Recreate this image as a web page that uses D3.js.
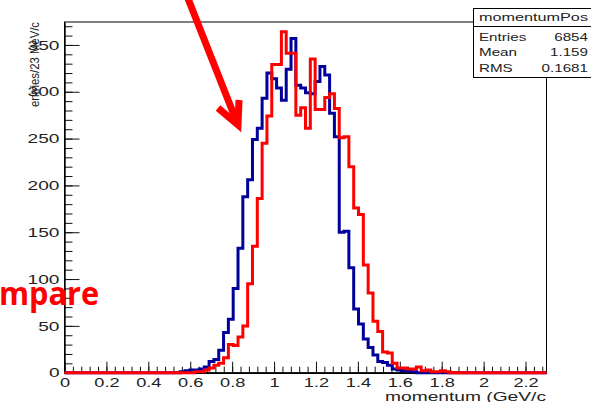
<!DOCTYPE html>
<meta charset="utf-8">
<style>
body { margin: 0; background: #fff; }
svg { display: block; font-family: "Liberation Sans", Arial, sans-serif; }
</style>
<svg width="591" height="402"></svg>
<script src="https://cdn.jsdelivr.net/npm/d3@7"></script>
<script>

// 100 bins of 23 MeV/c, 0 -> 2.3 GeV/c
var binWidth = 0.023;

var blueCounts = [
  0,0,0,0,0,0,0,0,0,0,
  0,0,0,0,0,0,0,0,0,0,
  0,0,0,0,1,2,3,3,4,6,
  12,14,24,43,57,90,133,188,206,249,
  261,293,320,314,304,291,324,357,307,304,
  299,298,311,327,318,277,252,150,151,112,
  68,52,36,27,19,12,11,8,4,3,
  2,2,1,0,0,0,0,0,0,0,
  0,0,0,0,0,0,0,0,0,0,
  0,0,0,0,0,0,0,0,0,0];

var redCounts = [
  0,0,0,0,0,0,0,0,0,0,
  0,0,0,0,0,0,0,0,0,0,
  0,0,0,0,0,0,0,1,1,3,
  5,8,10,16,30,29,38,50,95,135,
  186,245,274,329,329,364,341,341,275,283,
  261,335,281,281,294,298,282,251,252,220,
  176,169,115,85,55,44,22,21,10,5,
  5,4,4,6,2,3,1,1,2,1,
  0,0,0,0,0,0,0,0,0,0,
  0,0,0,0,0,0,0,0,0,0];

var xTickValues = [0, 0.2, 0.4, 0.6, 0.8, 1, 1.2, 1.4, 1.6, 1.8, 2, 2.2];
var yTickValues = [0, 50, 100, 150, 200, 250, 300, 350];
var statNames = ["Entries", "Mean", "RMS"];
var statValues = ["6854", "1.159", "0.1681"];

var svg = d3.select("svg");

var x = d3.scaleLinear().domain([0, 2.3]).range([64.5, 546.5]);
var y = d3.scaleLinear().domain([0, 374.5]).range([372.7, 22]);

// text in the picture is stretched sideways
function stretch(sel, k) {
  sel.each(function() {
    var w = this.getComputedTextLength();
    this.setAttribute("textLength", w * k);
    this.setAttribute("lengthAdjust", "spacingAndGlyphs");
  });
}

// frame
svg.append("rect")
    .attr("x", x(0))
    .attr("y", y.range()[1])
    .attr("width", x(2.3) - x(0))
    .attr("height", y(0) - y.range()[1])
    .attr("fill", "none")
    .attr("stroke", "#000")
    .attr("stroke-width", 1);

// minor ticks
var minorX = d3.range(0, 116).map(function(i) { return +(i * 0.02).toFixed(2); })
    .filter(function(d) { return d <= 2.3 && Math.round(d * 100) % 4 == 0; });
var minorY = d3.range(0, 371, 10);

svg.append("g")
    .attr("transform", "translate(0," + y(0) + ")")
    .call(d3.axisBottom(x).tickValues(minorX).tickSize(-6).tickFormat(""))
  .call(function(g) { g.select(".domain").remove(); })
  .selectAll("line").attr("stroke", "#111");

svg.append("g")
    .attr("transform", "translate(" + x(0) + ",0)")
    .call(d3.axisLeft(y).tickValues(minorY).tickSize(-8).tickFormat(""))
  .call(function(g) { g.select(".domain").remove(); })
  .selectAll("line").attr("stroke", "#111");

// major ticks + labels
var gx = svg.append("g")
    .attr("transform", "translate(0," + y(0) + ")")
    .call(d3.axisBottom(x).tickValues(xTickValues).tickSize(-11).tickSizeOuter(0)
      .tickPadding(5).tickFormat(d3.format("~g")));
gx.select(".domain").attr("stroke", "#000").attr("stroke-width", 1.4);
gx.selectAll("line").attr("stroke", "#111");
gx.selectAll("text").attr("font-size", 13).attr("fill", "#222")
    .attr("font-family", "Liberation Sans, Arial, sans-serif").call(stretch, 1.4);

var gy = svg.append("g")
    .attr("transform", "translate(" + x(0) + ",0)")
    .call(d3.axisLeft(y).tickValues(yTickValues).tickSize(-15).tickSizeOuter(0).tickPadding(5));
gy.select(".domain").attr("stroke", "#000").attr("stroke-width", 1.4);
gy.selectAll("line").attr("stroke", "#111");
gy.selectAll("text").attr("font-size", 13).attr("fill", "#222")
    .attr("font-family", "Liberation Sans, Arial, sans-serif").call(stretch, 1.47);

// histograms
function histPoints(counts) {
  var pts = counts.map(function(c, i) { return [i * binWidth, c]; });
  pts.push([counts.length * binWidth, counts[counts.length - 1]]);
  return pts;
}

var line = d3.line()
    .x(function(d) { return x(d[0]); })
    .y(function(d) { return y(d[1]); })
    .curve(d3.curveStepAfter);

svg.append("path")
    .datum(histPoints(blueCounts))
    .attr("fill", "none")
    .attr("stroke", "#00009a")
    .attr("stroke-width", 3)
    .attr("d", line);

svg.append("path")
    .datum(histPoints(redCounts))
    .attr("fill", "none")
    .attr("stroke", "#ff0000")
    .attr("stroke-width", 3)
    .attr("d", line);

// axis titles
svg.append("text")
    .attr("transform", "translate(38.5," + y.range()[1] + ") rotate(-90)")
    .attr("text-anchor", "end")
    .attr("font-size", 12.5)
    .attr("fill", "#222")
    .attr("textLength", 85)
    .attr("lengthAdjust", "spacingAndGlyphs")
    .text("entries/23 MeV/c");

svg.append("text")
    .attr("x", 546)
    .attr("y", 400.5)
    .attr("text-anchor", "end")
    .attr("font-size", 12)
    .attr("fill", "#222")
    .attr("textLength", 161)
    .attr("lengthAdjust", "spacingAndGlyphs")
    .text("momentum (GeV/c");

// stats box
var stats = svg.append("g");
stats.append("rect")
    .attr("x", 473.5).attr("y", 8.5)
    .attr("width", 130).attr("height", 69)
    .attr("fill", "#fff").attr("stroke", "#000");
stats.append("line")
    .attr("x1", 473.5).attr("x2", 591)
    .attr("y1", 26.5).attr("y2", 26.5)
    .attr("stroke", "#000");
stats.append("text")
    .attr("x", 533.5).attr("y", 21)
    .attr("text-anchor", "middle")
    .attr("font-size", 11)
    .attr("fill", "#222")
    .attr("textLength", 109)
    .attr("lengthAdjust", "spacingAndGlyphs")
    .text("momentumPos");

var rowY = [41, 55.5, 72];
stats.selectAll("text.name")
  .data(statNames)
  .enter().append("text")
    .attr("class", "name")
    .attr("x", 479)
    .attr("y", function(d, i) { return rowY[i]; })
    .attr("font-size", 11)
    .attr("fill", "#222")
    .text(function(d) { return d; })
    .call(stretch, 1.38);

stats.selectAll("text.val")
  .data(statValues)
  .enter().append("text")
    .attr("class", "val")
    .attr("x", 588)
    .attr("y", function(d, i) { return rowY[i]; })
    .attr("text-anchor", "end")
    .attr("font-size", 11)
    .attr("fill", "#222")
    .text(function(d) { return d; })
    .call(stretch, 1.38);

// slide annotations: red arrow and cut-off word
svg.append("path")
    .attr("d", "M187,-4L236,120")
    .attr("stroke", "#ff0000")
    .attr("stroke-width", 7)
    .attr("fill", "none");
svg.append("path")
    .attr("d", "M218,108L238,125L239,100")
    .attr("stroke", "#ff0000")
    .attr("stroke-width", 7)
    .attr("stroke-linejoin", "miter")
    .attr("fill", "none");

svg.append("text")
    .attr("x", -1)
    .attr("y", 305)
    .attr("font-family", "Open Sans, sans-serif")
    .attr("font-weight", "bold")
    .attr("font-size", 32)
    .attr("fill", "#ff0000")
    .attr("textLength", 100)
    .attr("lengthAdjust", "spacingAndGlyphs")
    .text("mpare");

</script>
